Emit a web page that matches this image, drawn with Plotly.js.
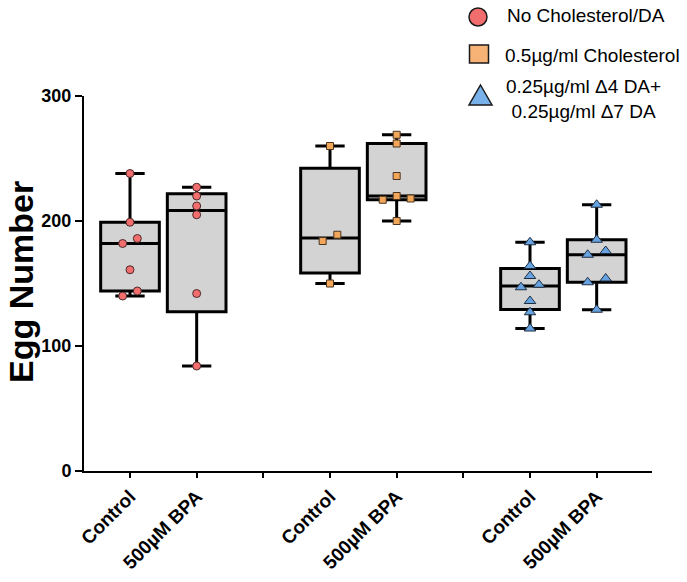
<!DOCTYPE html>
<html><head><meta charset="utf-8">
<script src="https://cdn.plot.ly/plotly-3.0.1.min.js"></script>
<style>html,body{margin:0;padding:0;background:#fff}#chart{width:687px;height:582px}</style>
</head><body><div id="chart"></div>
<script>
// ---- data ----
const tickLabels = ['Control', '500\u00b5M BPA', '', 'Control', '500\u00b5M BPA', '', 'Control', '500\u00b5M BPA'];
const seriesNames = ['No Cholesterol/DA', '0.5\u00b5g/ml Cholesterol', '0.25\u00b5g/ml \u03944 DA+<br>0.25\u00b5g/ml \u03947 DA'];
const noChol_control = [238, 199, 186, 182, 161, 144, 140];
const noChol_bpa = [227, 220, 212, 205, 142, 84];
const chol_control = [260, 189, 184, 150];
const chol_bpa = [269, 262, 236, 220, 218, 217, 200];
const da_control = [183, 164, 156, 149, 147, 136, 127, 114];
const da_bpa = [213, 185, 176, 173, 154, 151, 129];
const yTicks = [0, 100, 200, 300];

// ---- styling ----
const FONT = 'Arial, "Liberation Sans", sans-serif';
const series = [
  {name: seriesNames[0], ctrl: noChol_control, bpa: noChol_bpa, slots: [0, 1], symbol: 'circle', color: '#F26D6D', line: '#4a2a2a', size: 8, d: 0.11},
  {name: seriesNames[1], ctrl: chol_control, bpa: chol_bpa, slots: [3, 4], symbol: 'square', color: '#F2A65A', line: '#4a3420', size: 7, d: 0.11},
  {name: seriesNames[2], ctrl: da_control, bpa: da_bpa, slots: [6, 7], symbol: 'triangle-up', color: '#66A3E0', line: '#1f2d40', size: 10, d: 0.135}
];

// GraphPad-style quartile ((n+1)p)
function quant(sorted, p) {
  const n = sorted.length, h = (n + 1) * p;
  if (h <= 1) return sorted[0];
  if (h >= n) return sorted[n - 1];
  const lo = Math.floor(h);
  return sorted[lo - 1] + (h - lo) * (sorted[lo] - sorted[lo - 1]);
}
// scatter-dot spreading for near-equal values
function swarm(vals, thr, d) {
  const idx = vals.map((v, i) => i).sort((a, b) => vals[a] - vals[b]);
  const off = new Array(vals.length).fill(0);
  let cl = [idx[0]];
  const pats = {1: [0], 2: [-1, 1], 3: [-1.9, 1.9, 0]};
  const flush = () => { const p = pats[cl.length] || cl.map((_, k) => (k % 2 ? 1 : -1)); cl.forEach((j, k) => off[j] = p[k] * d); };
  for (let k = 1; k < idx.length; k++) {
    if (vals[idx[k]] - vals[idx[k - 1]] < thr) cl.push(idx[k]); else { flush(); cl = [idx[k]]; }
  }
  flush();
  return off;
}

const traces = [];
series.forEach(s => {
  [s.ctrl, s.bpa].forEach((vals, gi) => {
    const pos = s.slots[gi];
    const sorted = vals.slice().sort((a, b) => a - b);
    traces.push({
      type: 'box', x: [pos], q1: [quant(sorted, 0.25)], median: [quant(sorted, 0.5)], q3: [quant(sorted, 0.75)],
      lowerfence: [sorted[0]], upperfence: [sorted[sorted.length - 1]],
      width: 0.88, whiskerwidth: 0.5, fillcolor: '#D3D3D3', line: {color: '#000', width: 3},
      boxpoints: false, hoverinfo: 'skip', showlegend: false
    });
  });
});
series.forEach(s => {
  [s.ctrl, s.bpa].forEach((vals, gi) => {
    const pos = s.slots[gi];
    const off = swarm(vals, 6, s.d);
    traces.push({
      type: 'scatter', mode: 'markers', x: vals.map((v, i) => pos + off[i]), y: vals, cliponaxis: false,
      marker: {symbol: s.symbol, size: s.size, color: s.color, line: {color: s.line, width: 1}},
      hoverinfo: 'y', showlegend: false
    });
  });
});

const PL = 84, PR = 652, PT = 96, PB = 471;
const px = x => (x - PL) / (PR - PL);
const py = y => (PB - y) / (PB - PT);
const tf = {family: FONT, size: 18, weight: 'bold', color: '#000'};
const xf = {family: FONT, size: 19, weight: 'bold', color: '#000'};
const legLine = {color: '#1a1a1a', width: 1.5};

// legend keys (drawn as paper shapes)
const legendShapes = [
  {type: 'circle', xref: 'paper', yref: 'paper', x0: px(469), x1: px(487), y0: py(26), y1: py(8),
   fillcolor: series[0].color, line: legLine},
  {type: 'rect', xref: 'paper', yref: 'paper', x0: px(469.5), x1: px(488.5), y0: py(63), y1: py(45),
   fillcolor: '#F7B375', line: legLine},
  {type: 'path', xref: 'paper', yref: 'paper',
   path: `M ${px(480.5)},${py(85)} L ${px(492)},${py(105)} L ${px(469)},${py(105)} Z`,
   fillcolor: '#79B2EA', line: legLine}
];

const layout = {
  width: 687, height: 582, margin: {l: PL, r: 687 - PR, t: PT, b: 582 - PB},
  paper_bgcolor: '#fff', plot_bgcolor: '#fff', showlegend: false, boxmode: 'overlay',
  xaxis: {range: [-0.69, 7.83], tickmode: 'array', tickvals: tickLabels.map((_, i) => i), ticktext: tickLabels,
          tickangle: -45, ticks: 'outside', ticklen: 5, tickwidth: 2, tickcolor: '#000',
          showline: true, linewidth: 2, linecolor: '#000', showgrid: false, zeroline: false, tickfont: xf, fixedrange: true},
  yaxis: {range: [0, 300], tickmode: 'array', tickvals: yTicks, ticks: 'outside', ticklen: 7, tickwidth: 2, tickcolor: '#000',
          showline: true, linewidth: 2, linecolor: '#000', showgrid: false, zeroline: false, tickfont: tf, fixedrange: true},
  shapes: legendShapes,
  annotations: [
    {xref: 'paper', yref: 'paper', x: px(21), y: py(282), text: 'Egg Number', textangle: -90, showarrow: false,
     xanchor: 'center', yanchor: 'middle', font: {family: FONT, size: 34, weight: 'bold', color: '#000'}},
    {xref: 'paper', yref: 'paper', x: px(505), y: py(15), text: seriesNames[0], showarrow: false,
     xanchor: 'left', yanchor: 'middle', font: {family: FONT, size: 19, color: '#000'}},
    {xref: 'paper', yref: 'paper', x: px(503), y: py(55), text: seriesNames[1], showarrow: false,
     xanchor: 'left', yanchor: 'middle', font: {family: FONT, size: 19, color: '#000'}},
    {xref: 'paper', yref: 'paper', x: px(583), y: py(99), text: seriesNames[2], showarrow: false, align: 'center',
     xanchor: 'center', yanchor: 'middle', font: {family: FONT, size: 19, color: '#000'}}
  ]
};
Plotly.newPlot('chart', traces, layout, {staticPlot: true, displayModeBar: false});
</script>
</body></html>
